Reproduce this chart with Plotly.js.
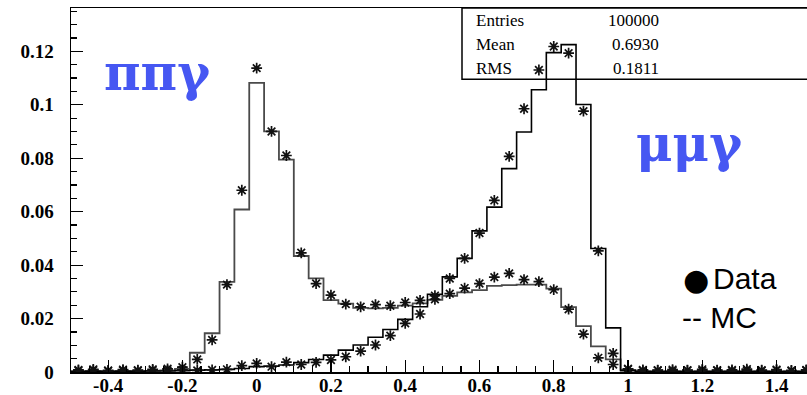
<!DOCTYPE html>
<html>
<head>
<meta charset="utf-8">
<script src="https://cdn.plot.ly/plotly-3.0.1.min.js"></script>
<style>html,body{margin:0;padding:0;background:#fff;}#chart{width:807px;height:395px;}</style>
</head>
<body>
<div id="chart"></div>
<script>
// Bin edges (width 0.04) and centres
const binEdges = [-0.50,-0.46,-0.42,-0.38,-0.34,-0.30,-0.26,-0.22,-0.18,-0.14,-0.10,-0.06,-0.02,0.02,0.06,0.10,0.14,0.18,0.22,0.26,0.30,0.34,0.38,0.42,0.46,0.50,0.54,0.58,0.62,0.66,0.70,0.74,0.78,0.82,0.86,0.90,0.94,0.98,1.02,1.06,1.10,1.14,1.18,1.22,1.26,1.30,1.34,1.38,1.42,1.46,1.50];
const binCenters = [-0.48,-0.44,-0.40,-0.36,-0.32,-0.28,-0.24,-0.20,-0.16,-0.12,-0.08,-0.04,0.00,0.04,0.08,0.12,0.16,0.20,0.24,0.28,0.32,0.36,0.40,0.44,0.48,0.52,0.56,0.60,0.64,0.68,0.72,0.76,0.80,0.84,0.88,0.92,0.96,1.00,1.04,1.08,1.12,1.16,1.20,1.24,1.28,1.32,1.36,1.40,1.44,1.48];

// pi pi gamma: MC histogram and data
const pipiMC = [0.0003,0.0004,0.0003,0.0004,0.0003,0.0004,0.0006,0.0012,0.0072,0.0145,0.0337,0.0608,0.1082,0.0900,0.0795,0.0434,0.0350,0.0269,0.0256,0.0240,0.0238,0.0240,0.0248,0.0257,0.0270,0.0285,0.0298,0.0306,0.0322,0.0325,0.0327,0.0327,0.0312,0.0243,0.0172,0.0096,0.0047,0.0008,0.0003,0.0002,0.0003,0.0002,0.0003,0.0002,0.0003,0.0002,0.0003,0.0002,0.0003,0.0002];
const pipiData = [0.0008,0.0010,0.0006,0.0009,0.0007,0.0010,0.0012,0.0018,0.0047,0.0120,0.0327,0.0680,0.1137,0.0900,0.0810,0.0446,0.0331,0.0288,0.0254,0.0244,0.0252,0.0248,0.0260,0.0268,0.0272,0.0293,0.0314,0.0331,0.0355,0.0369,0.0346,0.0338,0.0308,0.0235,0.0142,0.0053,0.0028,0.0010,0.0008,0.0006,0.0009,0.0007,0.0010,0.0006,0.0008,0.0011,0.0007,0.0009,0.0006,0.0008];

// mu mu gamma: MC histogram and data
const mumuMC = [0.0002,0.0003,0.0002,0.0003,0.0003,0.0004,0.0004,0.0005,0.0007,0.0008,0.0010,0.0013,0.0020,0.0022,0.0026,0.0035,0.0047,0.0063,0.0082,0.0101,0.0130,0.0159,0.0197,0.0244,0.0291,0.0356,0.0425,0.0528,0.0617,0.0761,0.0898,0.1056,0.1195,0.1225,0.1001,0.0462,0.0165,0.0005,0.0002,0.0002,0.0002,0.0002,0.0002,0.0002,0.0002,0.0002,0.0002,0.0002,0.0002,0.0002];
const mumuData = [0.0005,0.0007,0.0004,0.0006,0.0005,0.0007,0.0006,0.0008,0.0006,0.0008,0.0010,0.0024,0.0032,0.0020,0.0037,0.0028,0.0036,0.0045,0.0057,0.0078,0.0101,0.0136,0.0182,0.0217,0.0286,0.0350,0.0425,0.0520,0.0642,0.0807,0.0985,0.1130,0.1218,0.1193,0.0976,0.0453,0.0070,0.0012,0.0005,0.0007,0.0004,0.0006,0.0005,0.0007,0.0004,0.0006,0.0005,0.0007,0.0004,0.0006];

const xTickVals = [-0.4,-0.2,0,0.2,0.4,0.6,0.8,1,1.2,1.4];
const xTickLabels = ['-0.4','-0.2','0','0.2','0.4','0.6','0.8','1','1.2','1.4'];
const yTickVals = [0,0.02,0.04,0.06,0.08,0.1,0.12];
const yTickLabels = ['0','0.02','0.04','0.06','0.08','0.1','0.12'];

const statNames = ['Entries','Mean','RMS'];
const statValues = ['100000','0.6930','0.1811'];

function stepTrace(vals, color, width) {
  const xs = binEdges.slice();
  const ys = vals.concat([vals[vals.length-1]]);
  return {x: xs, y: ys, type: 'scatter', mode: 'lines',
    line: {shape: 'hv', color: color, width: width}, hoverinfo: 'skip', showlegend: false};
}
function pointTrace(vals) {
  return {x: binCenters, y: vals, type: 'scatter', mode: 'markers',
    marker: {symbol: 'asterisk-open', size: 9, color: '#111', line: {color: '#111', width: 1.7}},
    showlegend: false};
}

const data = [
  stepTrace(pipiMC, '#4a4a4a', 1.8),
  stepTrace(mumuMC, '#000', 1.6),
  pointTrace(pipiData),
  pointTrace(mumuData)
];

const serifTick = {family: 'Liberation Serif, Times New Roman, serif', size: 19, color: '#000', weight: 'bold'};
const statFont = {family: 'Liberation Serif, Times New Roman, serif', size: 17, color: '#000'};
const statY = [20.5, 44.5, 68.5];
const px = v => (v-71)/736;
const py = v => 1-(v-8)/364;

const annotations = [];
statNames.forEach((n, i) => {
  annotations.push({xref: 'paper', yref: 'paper', x: px(474), y: py(statY[i]), text: n, showarrow: false, xanchor: 'left', yanchor: 'middle', font: statFont});
  annotations.push({xref: 'paper', yref: 'paper', x: px(661), y: py(statY[i]), text: statValues[i], showarrow: false, xanchor: 'right', yanchor: 'middle', font: statFont});
});
const greekFont = {family: 'DejaVu Serif, serif', size: 50, color: '#4657f2', weight: 'bold'};
annotations.push({xref: 'paper', yref: 'paper', x: px(102), y: py(72), text: 'ππγ', showarrow: false, xanchor: 'left', yanchor: 'middle', font: greekFont});
annotations.push({xref: 'paper', yref: 'paper', x: px(634), y: py(143), text: 'μμγ', showarrow: false, xanchor: 'left', yanchor: 'middle', font: greekFont});
const legFont = {family: 'Liberation Sans, Arial, sans-serif', size: 30, color: '#000'};
annotations.push({xref: 'paper', yref: 'paper', x: px(696), y: py(279), text: '●', showarrow: false, xanchor: 'center', yanchor: 'middle',
  font: {family: 'DejaVu Sans, sans-serif', size: 30, color: '#000'}});
annotations.push({xref: 'paper', yref: 'paper', x: px(711), y: py(278), text: 'Data', showarrow: false, xanchor: 'left', yanchor: 'middle', font: legFont});
annotations.push({xref: 'paper', yref: 'paper', x: px(680), y: py(317), text: '-- MC', showarrow: false, xanchor: 'left', yanchor: 'middle', font: legFont});

const layout = {
  width: 807, height: 395,
  margin: {l: 71, r: 0, t: 8, b: 23, pad: 0},
  paper_bgcolor: '#fff', plot_bgcolor: '#fff',
  showlegend: false,
  xaxis: {range: [-0.5, 1.482], showgrid: false, zeroline: false, showline: true, linecolor: '#000', linewidth: 1.5, mirror: true,
    ticks: 'inside', ticklen: 12, tickwidth: 1.2, tickcolor: '#000', tickvals: xTickVals, ticktext: xTickLabels, tickfont: serifTick,
    ticklabelstandoff: -4,
    minor: {ticks: 'inside', ticklen: 6, tickwidth: 1.2, tickcolor: '#000', dtick: 0.05, tick0: 0, showgrid: false}},
  yaxis: {range: [0, 0.1362], showgrid: false, zeroline: false, showline: true, linecolor: '#000', linewidth: 1.5,
    ticks: 'inside', ticklen: 12, tickwidth: 1.2, tickcolor: '#000', tickvals: yTickVals, ticktext: yTickLabels, tickfont: serifTick,
    ticklabelstandoff: 12,
    minor: {ticks: 'inside', ticklen: 6, tickwidth: 1.2, tickcolor: '#000', dtick: 0.005, tick0: 0, showgrid: false}},
  shapes: [
    {type: 'rect', xref: 'paper', yref: 'paper', x0: px(462), x1: 1.01, y0: py(79.3), y1: 1, line: {color: '#000', width: 1.5}, fillcolor: 'rgba(0,0,0,0)'}
  ],
  annotations: annotations
};

Plotly.newPlot('chart', data, layout, {staticPlot: true, displayModeBar: false});
</script>
</body>
</html>
